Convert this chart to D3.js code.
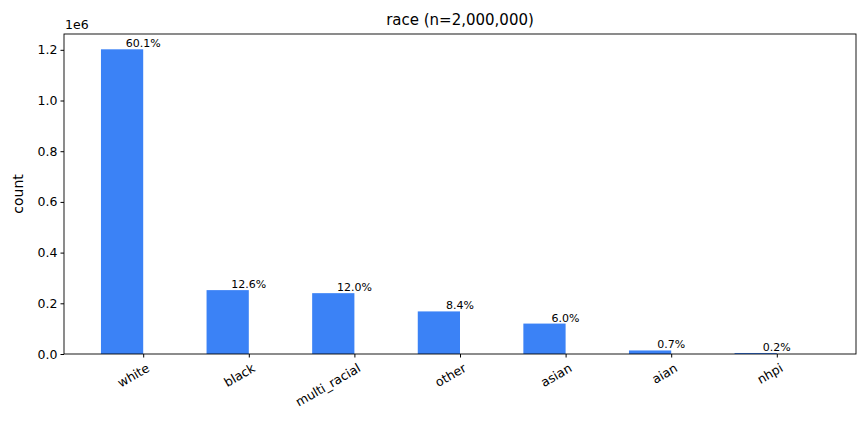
<!DOCTYPE html><html><head><meta charset="utf-8">
<script src="https://cdn.jsdelivr.net/npm/d3@7"></script>
<style>body{margin:0;background:#fff}text{font-family:"DejaVu Sans",sans-serif}</style></head><body>
<svg id="c" width="867" height="428"></svg>
<script>
const categories=["white","black","multi_racial","other","asian","aian","nhpi"];
const counts=[1202000,252000,240000,168000,120000,14000,4000];
const pctLabels=["60.1%","12.6%","12.0%","8.4%","6.0%","0.7%","0.2%"];
const yTicks=[0,0.2e6,0.4e6,0.6e6,0.8e6,1.0e6,1.2e6];
const L=64,R=856,T=34,B=354;
const svg=d3.select("#c");
const x=d3.scaleLinear().domain([-0.75,6.75]).range([L,R]);
const y=d3.scaleLinear().domain([0,1.2624e6]).range([B,T]);
const bw=x(0.4)-x(0);
svg.selectAll("rect.bar").data(counts).join("rect").attr("fill","#3b82f6")
 .attr("x",(d,i)=>x(i-0.4)).attr("width",bw).attr("y",d=>y(d)).attr("height",d=>B-y(d));
svg.selectAll("text.pl").data(counts).join("text").attr("font-size",11).attr("text-anchor","middle")
 .attr("x",(d,i)=>x(i)).attr("y",d=>y(d)-2).text((d,i)=>pctLabels[i]);
const ya=svg.append("g").attr("transform",`translate(${L},0)`).call(d3.axisLeft(y).tickValues(yTicks).tickFormat(d=>(d/1e6).toFixed(1)).tickSize(3.5).tickPadding(3));
ya.selectAll("text").attr("font-size",12.5).attr("fill","#000");
const xa=svg.append("g").attr("transform",`translate(0,${B})`).call(d3.axisBottom(x).tickValues(d3.range(7)).tickFormat(i=>categories[i]).tickSize(3.5));
xa.selectAll("text").attr("font-size",12.5).attr("fill","#000").attr("text-anchor","end")
 .attr("transform","rotate(-30)").attr("dx","-0.2em").attr("dy","0.9em");
svg.selectAll(".domain").remove();
svg.append("rect").attr("x",L).attr("y",T).attr("width",R-L).attr("height",B-T).attr("fill","none").attr("stroke","#000").attr("stroke-width",0.9);
svg.append("text").attr("x",L+1).attr("y",29).attr("font-size",12.5).text("1e6");
svg.append("text").attr("x",(L+R)/2).attr("y",25).attr("text-anchor","middle").attr("font-size",15).text("race (n=2,000,000)");
svg.append("text").attr("transform",`translate(23,${(T+B)/2}) rotate(-90)`).attr("text-anchor","middle").attr("font-size",14).text("count");
</script></body></html>
